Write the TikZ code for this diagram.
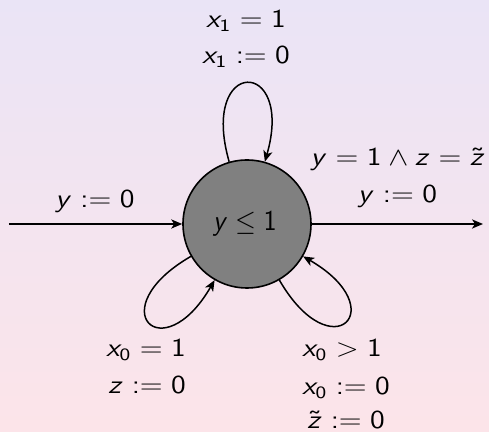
\documentclass[tikz,border=0pt]{standalone}
\usepackage{graphicx}
\usetikzlibrary{arrows.meta}
\SetSymbolFont{operators}{normal}{OT1}{cmss}{m}{n}
\DeclareSymbolFont{sfletters}{OT1}{cmss}{m}{sl}
\DeclareMathSymbol{x}{\mathalpha}{sfletters}{`x}
\DeclareMathSymbol{y}{\mathalpha}{sfletters}{`y}
\DeclareMathSymbol{z}{\mathalpha}{sfletters}{`z}
\newcommand{\elab}[1]{\scalebox{1.25}[1.08]{$#1$}}
\newcommand{\slab}[1]{\scalebox{0.93}[1]{$#1$}}
\definecolor{bgtop}{RGB}{234,228,246}
\definecolor{bgbot}{RGB}{252,228,233}
\tikzset{
  statebox/.style={circle, draw=black, fill=gray, line width=0.8pt, minimum size=64pt, inner sep=0pt,
    font=\fontsize{14.4}{17}\selectfont},
  edge/.style={line width=0.75pt, -{Stealth[length=5.5pt,width=4.6pt,inset=1.5pt]}},
  lbl/.style={anchor=base, inner sep=0pt, font=\fontsize{12}{14}\selectfont}
}
\begin{document}
\begin{tikzpicture}[x=0.5pt,y=0.5pt]
  \fill[top color=bgtop, bottom color=bgbot] (0,0) rectangle (489,-432);
  \useasboundingbox (0,0) rectangle (489,-432);
  \node[statebox] (s) at (247,-224) {\hspace*{-2pt}\slab{y \le 1}};
  \coordinate (in) at (9,-224);
  \coordinate (out) at (483,-224);
  \draw[edge] (in) -- (s);
  \draw[edge] (s) -- (out);
  \draw[edge] (s.106) .. controls +(106:109) and +(74:109) .. (s.74);
  \draw[edge] (s.210) .. controls +(210:105) and +(240:105) .. (s.240);
  \draw[edge] (s.300) .. controls +(300:105) and +(330:105) .. (s.330);
  % labels
  \node[lbl] (t1) at (246,-28) {\elab{x_1 = 1}};
  \node[lbl] (t2) at (246,-63.5) {\elab{x_1 := 0}};
  \node[lbl] (l1) at (95,-208) {\elab{y := 0}};
  \node[lbl] (r1) at (398,-166) {\elab{y = 1 \wedge z = \tilde{z}}};
  \node[lbl] (r2) at (397.5,-203) {\elab{y := 0}};
  \node[lbl] (bl1) at (146,-357) {\elab{x_0 = 1}};
  \node[lbl] (bl2) at (147,-393.5) {\elab{z := 0}};
  \node[lbl] (br1) at (342,-356.7) {\elab{x_0 > 1}};
  \node[lbl] (br2) at (346,-395) {\elab{x_0 := 0}};
  \node[lbl] (br3) at (346,-429) {\elab{\tilde{z} := 0}};
\end{tikzpicture}
\end{document}
